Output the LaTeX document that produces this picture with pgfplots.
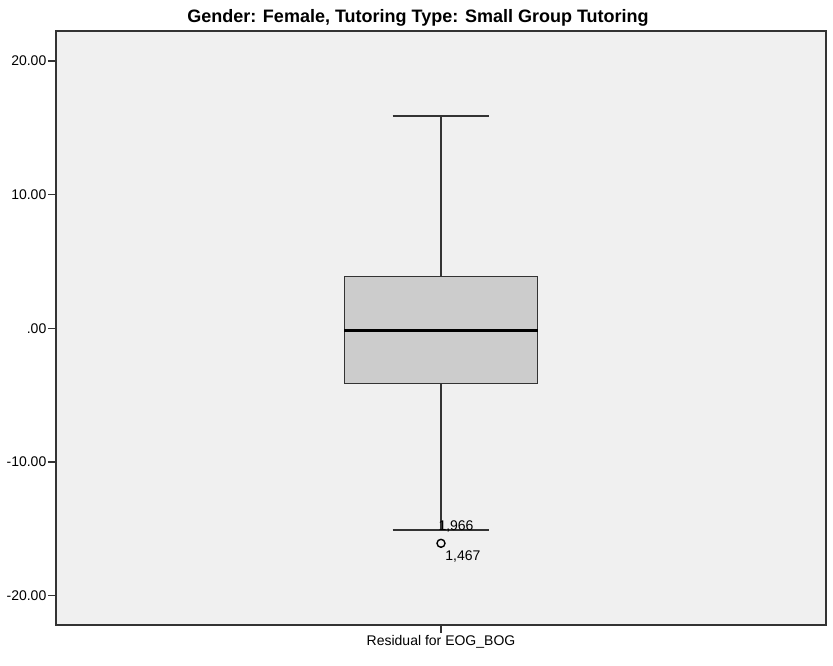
\documentclass[border=0pt]{standalone}
\usepackage{fontspec}
\setmainfont{Liberation Sans}
\usepackage{pgfplots}
\pgfplotsset{compat=1.18}
\usepgfplotslibrary{statistics}
\definecolor{panel}{HTML}{F0F0F0}
\definecolor{boxfill}{HTML}{CCCCCC}
\definecolor{frame}{HTML}{333333}
\begin{document}
\begin{tikzpicture}[x=1pt,y=1pt]
\useasboundingbox (0,0) rectangle (833,666);
\begin{axis}[
  at={(56pt,41pt)}, anchor=south west,
  scale only axis, width=770pt, height=594pt,
  xmin=0, xmax=2, ymin=-22.19, ymax=22.24,
  axis background/.style={fill=panel},
  axis line style={frame, line width=1.3pt},
  tick style={frame, line width=1.3pt},
  tick align=outside, major tick length=8pt,
  tick pos=left,
  xtick={1}, xticklabels={Residual for EOG\_BOG},
  ytick={-20,-10,0,10,20},
  yticklabels={-20.00,-10.00,.00,10.00,20.00},
  ticklabel style={font=\fontsize{14}{16}\selectfont, text=black},
  yticklabel style={inner sep=1.5pt},
  xticklabel style={inner sep=2pt},
  clip=false,
]
\addplot[
  boxplot/draw direction=y,
  boxplot prepared={
    draw position=1,
    lower whisker=-15.09, lower quartile=-4.11,
    median=-0.13,
    upper quartile=3.86, upper whisker=15.88,
    box extend=0.502, whisker extend=0.251,
  },
  draw=frame, line width=1.3pt,
  boxplot/every box/.style={fill=boxfill, draw=frame, line width=1.4pt},
  boxplot/every median/.style={draw=black, line width=3pt},
  mark=o, mark size=4pt, mark options={draw=black, line width=1.4pt},
] coordinates {(1,-16.08)};
% case numbers of the extreme points
\node[font=\fontsize{14}{16}\selectfont] at (axis cs:1.039,-14.86) {1,966};
\node[font=\fontsize{14}{16}\selectfont] at (axis cs:1.057,-17.10) {1,467};
\end{axis}
\node[anchor=base, font=\fontsize{18}{20}\selectfont\bfseries] at (418,643) {Gender: Female, Tutoring Type: Small Group Tutoring};
\end{tikzpicture}
\end{document}
